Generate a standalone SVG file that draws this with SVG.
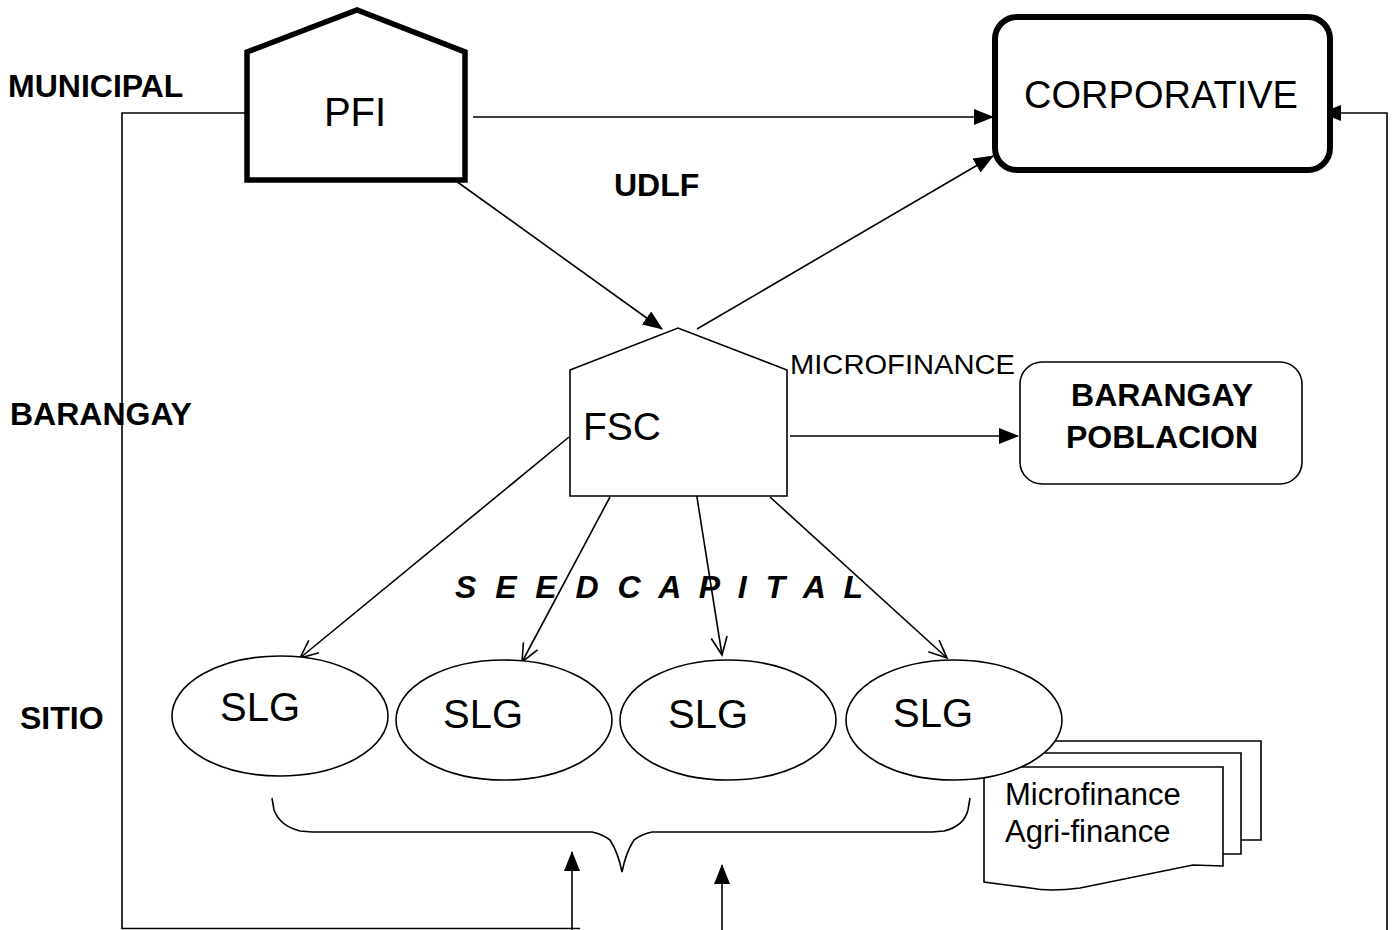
<svg xmlns="http://www.w3.org/2000/svg" width="1396" height="930" viewBox="0 0 1396 930">
<style>
.lbl{font-family:"Liberation Sans",Arial,sans-serif;font-weight:bold;font-size:32px;fill:#000}
.txt{font-family:"Liberation Sans",Arial,sans-serif;fill:#000}
.ln{stroke:#000;stroke-width:1.6;fill:none}
.shape{fill:#fff;stroke:#000}
</style>
<defs>
<marker id="arr" markerWidth="20" markerHeight="16" refX="19" refY="8" orient="auto" markerUnits="userSpaceOnUse">
<path d="M0,0 L20,8 L0,16 z" fill="#000"/>
</marker>
<marker id="open" markerWidth="20" markerHeight="18" refX="19" refY="9" orient="auto" markerUnits="userSpaceOnUse" overflow="visible">
<path d="M1,1 L19,9 L1,17" fill="none" stroke="#000" stroke-width="1.6"/>
</marker>
</defs>
<rect width="1396" height="930" fill="#fff"/>

<g id="labels">
<text class="lbl" x="8" y="97">MUNICIPAL</text>
<text class="lbl" x="10" y="425">BARANGAY</text>
<text class="lbl" x="20" y="729">SITIO</text>
<text class="lbl" x="614" y="196">UDLF</text>
<text class="lbl" x="455" y="598" font-size="30" font-style="italic" textLength="408" lengthAdjust="spacing">S E E D C A P I T A L</text>
<text class="txt" x="790" y="374" font-size="27" textLength="225" lengthAdjust="spacingAndGlyphs">MICROFINANCE</text>
</g>

<g id="connectors">
<polyline class="ln" points="245,113 122,113 122,928.5 580,928.5"/>
<polyline class="ln" points="1387,930 1387,113 1322,113" marker-end="url(#arr)"/>
<line class="ln" x1="473" y1="117" x2="993" y2="117" marker-end="url(#arr)"/>
<line class="ln" x1="456" y1="181" x2="662" y2="329" marker-end="url(#arr)"/>
<line class="ln" x1="697" y1="329" x2="993" y2="156" marker-end="url(#arr)"/>
<line class="ln" x1="790" y1="436" x2="1018" y2="436" marker-end="url(#arr)"/>
<line class="ln" x1="569" y1="437" x2="300" y2="658" marker-end="url(#open)"/>
<line class="ln" x1="610" y1="497" x2="522" y2="662" marker-end="url(#open)"/>
<line class="ln" x1="696" y1="491" x2="722" y2="655" marker-end="url(#open)"/>
<line class="ln" x1="770" y1="497" x2="947" y2="658" marker-end="url(#open)"/>
<line class="ln" x1="572" y1="930" x2="572" y2="852" marker-end="url(#arr)"/>
<line class="ln" x1="722" y1="930" x2="722" y2="865" marker-end="url(#arr)"/>
<path class="ln" d="M272,798 L274,810 Q280,826 300,831 L312,832 L592,832 Q602,834 610,840 Q618,852 622,872 Q626,852 634,840 Q642,834 652,832 L932,832 L944,831 Q964,826 968,810 L970,798"/>
</g>

<g id="pfi">
<path class="shape" stroke-width="5.5" stroke-linejoin="miter" d="M247,52 L357,10 L465,52 L465,180 L247,180 Z"/>
<text class="txt" x="355" y="126" font-size="40" text-anchor="middle">PFI</text>
</g>

<g id="corporative">
<rect class="shape" x="995" y="17" width="335" height="153" rx="22" stroke-width="6"/>
<text class="txt" x="1161" y="108" font-size="38" text-anchor="middle">CORPORATIVE</text>
</g>

<g id="fsc">
<path class="shape" stroke-width="1.6" d="M570,370 L678,328 L787,370 L787,496 L570,496 Z"/>
<text class="txt" x="583" y="440" font-size="39">FSC</text>
</g>

<g id="barangay-poblacion">
<rect class="shape" x="1020" y="362" width="282" height="122" rx="22" stroke-width="1.6"/>
<text class="lbl" x="1162" y="406" text-anchor="middle">BARANGAY</text>
<text class="lbl" x="1162" y="448" text-anchor="middle">POBLACION</text>
</g>

<g id="documents">
<polyline class="shape" stroke-width="1.6" points="1000,741 1261,741 1261,840 1241,840"/>
<polyline class="shape" stroke-width="1.6" points="990,753 1241,753 1241,854 1223,854"/>
<path class="shape" stroke-width="1.6" d="M984,767 L1223,767 L1223,866 L1193,865 Q1140,876 1080,888 Q1050,892 1030,888 L984,882 Z"/>
<text class="txt" x="1005" y="805" font-size="31">Microfinance</text>
<text class="txt" x="1005" y="842" font-size="31">Agri-finance</text>
</g>

<g id="slg1">
<ellipse class="shape" cx="280" cy="716" rx="108" ry="60" stroke-width="1.6"/>
<text class="txt" x="220" y="721" font-size="40">SLG</text>
</g>
<g id="slg2">
<ellipse class="shape" cx="504" cy="720" rx="108" ry="60" stroke-width="1.6"/>
<text class="txt" x="443" y="728" font-size="40">SLG</text>
</g>
<g id="slg3">
<ellipse class="shape" cx="728" cy="720" rx="108" ry="60" stroke-width="1.6"/>
<text class="txt" x="668" y="728" font-size="40">SLG</text>
</g>
<g id="slg4">
<ellipse class="shape" cx="954" cy="720" rx="108" ry="60" stroke-width="1.6"/>
<text class="txt" x="893" y="727" font-size="40">SLG</text>
</g>
</svg>
